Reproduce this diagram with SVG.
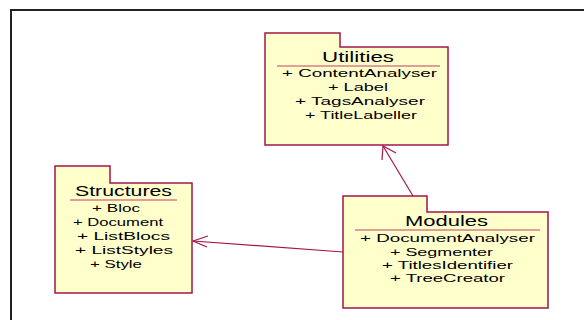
<svg xmlns="http://www.w3.org/2000/svg" width="584" height="320" viewBox="0 0 584 320">
<style>
.pkg{fill:#ffffcc;stroke:#a3164b;stroke-width:1.5}
.sep{stroke:#c04060;stroke-width:1}
.t{font-family:"Liberation Sans",Arial,sans-serif;font-size:15px;fill:#000}
.i{font-family:"Liberation Sans",Arial,sans-serif;font-size:11.5px;fill:#000}
.c{fill:none;stroke:#a3164b;stroke-width:1.2}
</style>
<rect x="0" y="0" width="584" height="320" fill="#fff"/>
<rect x="11" y="10" width="600" height="340" fill="none" stroke="#222" stroke-width="2"/>
<g id="connectors">
<line class="c" x1="413" y1="196" x2="383" y2="146"/>
<polyline class="c" points="382,160 383,146 396,153"/>
<line class="c" x1="343" y1="252" x2="193" y2="241"/>
<polyline class="c" points="208,236 193,241 207,247"/>
</g>
<g id="Utilities">
<path class="pkg" d="M265,47 V33 H340 V47 H448 V145 H265 Z"/>
<line class="sep" x1="277" y1="66" x2="440" y2="66"/>
<text class="t" x="322" y="62" textLength="72" lengthAdjust="spacingAndGlyphs">Utilities</text>
<text class="i" x="282" y="77" textLength="155" lengthAdjust="spacingAndGlyphs">+ ContentAnalyser</text>
<text class="i" x="328" y="91" textLength="60" lengthAdjust="spacingAndGlyphs">+ Label</text>
<text class="i" x="295" y="105" textLength="130" lengthAdjust="spacingAndGlyphs">+ TagsAnalyser</text>
<text class="i" x="305" y="119" textLength="112" lengthAdjust="spacingAndGlyphs">+ TitleLabeller</text>
</g>
<g id="Structures">
<path class="pkg" d="M55,183 V166 H110 V183 H192 V293 H55 Z"/>
<line class="sep" x1="70" y1="200" x2="177" y2="200"/>
<text class="t" x="75" y="196" textLength="97" lengthAdjust="spacingAndGlyphs">Structures</text>
<text class="i" x="92" y="212" textLength="48" lengthAdjust="spacingAndGlyphs">+ Bloc</text>
<text class="i" x="73" y="226" textLength="90" lengthAdjust="spacingAndGlyphs">+ Document</text>
<text class="i" x="77" y="240" textLength="93" lengthAdjust="spacingAndGlyphs">+ ListBlocs</text>
<text class="i" x="75" y="254" textLength="98" lengthAdjust="spacingAndGlyphs">+ ListStyles</text>
<text class="i" x="90" y="268" textLength="52" lengthAdjust="spacingAndGlyphs">+ Style</text>
</g>
<g id="Modules">
<path class="pkg" d="M343,212 V196 H427 V212 H548 V308 H343 Z"/>
<line class="sep" x1="355" y1="230" x2="540" y2="230"/>
<text class="t" x="405" y="226" textLength="83" lengthAdjust="spacingAndGlyphs">Modules</text>
<text class="i" x="360" y="242" textLength="175" lengthAdjust="spacingAndGlyphs">+ DocumentAnalyser</text>
<text class="i" x="390" y="256" textLength="103" lengthAdjust="spacingAndGlyphs">+ Segmenter</text>
<text class="i" x="382" y="269" textLength="131" lengthAdjust="spacingAndGlyphs">+ TitlesIdentifier</text>
<text class="i" x="390" y="282" textLength="115" lengthAdjust="spacingAndGlyphs">+ TreeCreator</text>
</g>
</svg>
